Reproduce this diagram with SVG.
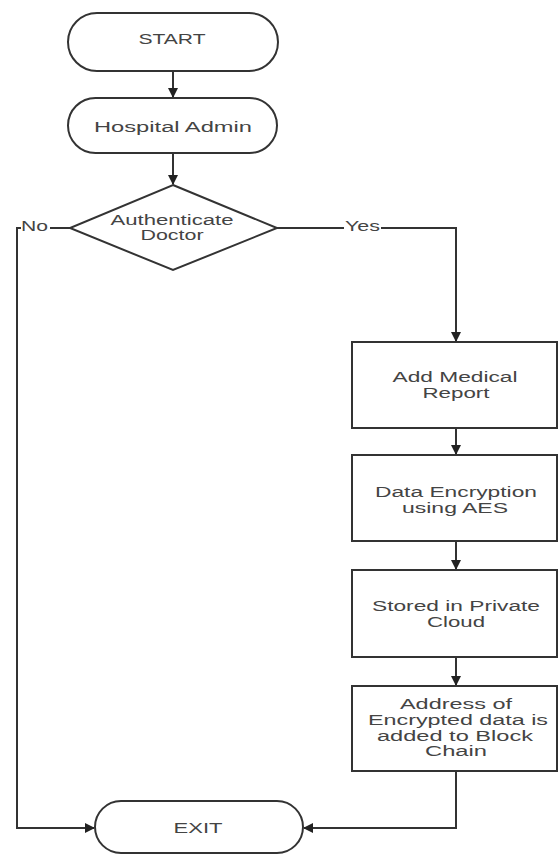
<svg xmlns="http://www.w3.org/2000/svg" width="560" height="855" viewBox="0 0 560 855">
<style>
.s{fill:#fff;stroke:#333;stroke-width:2}
.c{fill:none;stroke:#333;stroke-width:2}
.t{font-family:"Liberation Sans",Arial,sans-serif;font-size:14px;fill:#444;text-anchor:middle}
.l{font-family:"Liberation Sans",Arial,sans-serif;font-size:14px;fill:#444}
</style>
<defs>
<marker id="a" markerWidth="10" markerHeight="10" refX="9" refY="5" orient="auto" markerUnits="userSpaceOnUse">
<path d="M0,0 L10,5 L0,10 z" fill="#222"/>
</marker>
</defs>
<rect width="560" height="855" fill="#fff"/>
<g id="connectors">
<line class="c" x1="173" y1="71" x2="173" y2="97" marker-end="url(#a)"/>
<line class="c" x1="173" y1="153" x2="173" y2="184" marker-end="url(#a)"/>
<polyline class="c" points="277,228 456,228 456,341" marker-end="url(#a)"/>
<polyline class="c" points="70,228 17,228 17,828 94,828" marker-end="url(#a)"/>
<line class="c" x1="456" y1="428" x2="456" y2="454" marker-end="url(#a)"/>
<line class="c" x1="456" y1="541" x2="456" y2="569" marker-end="url(#a)"/>
<line class="c" x1="456" y1="657" x2="456" y2="685" marker-end="url(#a)"/>
<polyline class="c" points="456,771 456,828 304,828" marker-end="url(#a)"/>
<rect x="21" y="220" width="29" height="14" fill="#fff"/>
<text class="l" x="21" y="231" textLength="27" lengthAdjust="spacingAndGlyphs">No</text>
<rect x="344" y="220" width="37" height="14" fill="#fff"/>
<text class="l" x="345" y="231" textLength="35" lengthAdjust="spacingAndGlyphs">Yes</text>
</g>
<g id="start">
<rect class="s" x="68" y="13" width="210" height="58" rx="29"/>
<text class="t" x="172" y="44" textLength="67" lengthAdjust="spacingAndGlyphs">START</text>
</g>
<g id="hospital-admin">
<rect class="s" x="68" y="98" width="209" height="55" rx="27.5"/>
<text class="t" x="173" y="132" textLength="158" lengthAdjust="spacingAndGlyphs">Hospital  Admin</text>
</g>
<g id="authenticate">
<polygon class="s" points="173,185 277,228 173,270 70,228"/>
<text class="t" x="172" y="225" textLength="123" lengthAdjust="spacingAndGlyphs">Authenticate</text>
<text class="t" x="172" y="240" textLength="63" lengthAdjust="spacingAndGlyphs">Doctor</text>
</g>
<g id="add-report">
<rect class="s" x="352" y="342" width="205" height="86"/>
<text class="t" x="455" y="382" textLength="125" lengthAdjust="spacingAndGlyphs">Add Medical</text>
<text class="t" x="456" y="398" textLength="67" lengthAdjust="spacingAndGlyphs">Report</text>
</g>
<g id="encryption">
<rect class="s" x="352" y="455" width="205" height="86"/>
<text class="t" x="456" y="497" textLength="162" lengthAdjust="spacingAndGlyphs">Data Encryption</text>
<text class="t" x="455" y="513" textLength="106" lengthAdjust="spacingAndGlyphs">using AES</text>
</g>
<g id="stored">
<rect class="s" x="352" y="570" width="205" height="87"/>
<text class="t" x="456" y="611" textLength="168" lengthAdjust="spacingAndGlyphs">Stored in Private</text>
<text class="t" x="456" y="627" textLength="58" lengthAdjust="spacingAndGlyphs">Cloud</text>
</g>
<g id="address">
<rect class="s" x="352" y="686" width="205" height="85"/>
<text class="t" x="456" y="709" textLength="112" lengthAdjust="spacingAndGlyphs">Address of</text>
<text class="t" x="458" y="725" textLength="180" lengthAdjust="spacingAndGlyphs">Encrypted data  is</text>
<text class="t" x="455" y="741" textLength="156" lengthAdjust="spacingAndGlyphs">added to Block</text>
<text class="t" x="456" y="756" textLength="62" lengthAdjust="spacingAndGlyphs">Chain</text>
</g>
<g id="exit">
<rect class="s" x="95" y="801" width="208" height="52" rx="26"/>
<text class="t" x="198" y="833" textLength="49" lengthAdjust="spacingAndGlyphs">EXIT</text>
</g>
</svg>
